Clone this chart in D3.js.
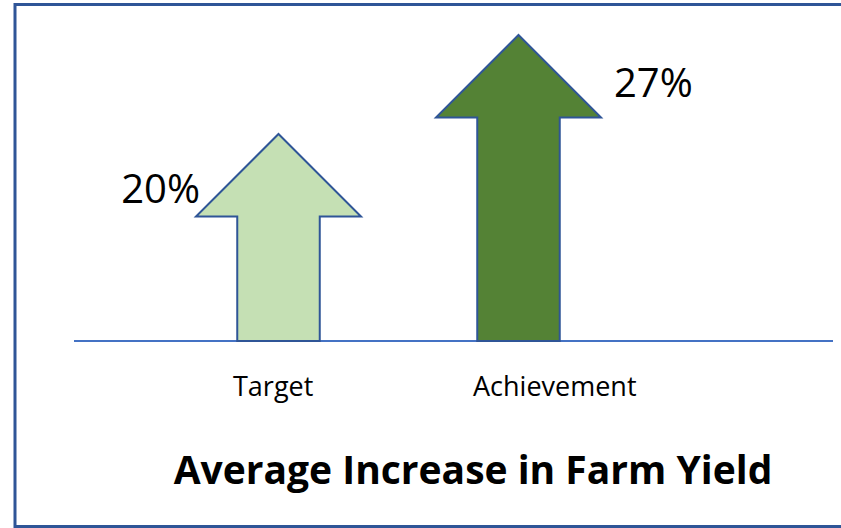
<!DOCTYPE html>
<html>
<head>
<meta charset="utf-8">
<script src="https://cdn.jsdelivr.net/npm/d3@7"></script>
<style>
  body { margin: 0; background: #fff; }
  svg { display: block; font-family: "Open Sans", sans-serif; }
</style>
</head>
<body>
<div id="vis"></div>
<script>
// Data
const CATEGORIES = ["Target", "Achievement"];
const VALUES = [20, 27];
const VALUE_LABELS = ["20%", "27%"];
const TITLE = "Average Increase in Farm Yield";

// Frame
const FRAME_WIDTH = 841;
const FRAME_HEIGHT = 528;
const BASE_Y = 341;

const FRAME = d3.select("#vis")
                .append("svg")
                  .attr("width", FRAME_WIDTH)
                  .attr("height", FRAME_HEIGHT);

// outer border (runs off the right edge like the slide)
FRAME.append("rect")
      .attr("x", 15)
      .attr("y", 4.5)
      .attr("width", 840)
      .attr("height", 522)
      .attr("fill", "none")
      .attr("stroke", "#2F5597")
      .attr("stroke-width", 3);

// scales: band for arrow heads, linear for arrow tips
const X_SCALE = d3.scaleBand()
                  .domain(CATEGORIES)
                  .range([196, 601])
                  .paddingInner(0.3125)
                  .paddingOuter(0);

const Y_SCALE = d3.scaleLinear()
                  .domain(d3.extent(VALUES))
                  .range([134, 35]);

const data = CATEGORIES.map((c, i) => ({cat: c, value: VALUES[i], label: VALUE_LABELS[i], i: i}));
const FILLS = ["#C5E0B4", "#548235"];

// baseline
FRAME.append("line")
      .attr("x1", 74)
      .attr("x2", 833)
      .attr("y1", BASE_Y)
      .attr("y2", BASE_Y)
      .attr("stroke", "#4472C4")
      .attr("stroke-width", 2);

// arrow shape: head is half the band tall, shaft is half the band wide
function arrowPath(d) {
  const w = X_SCALE.bandwidth();
  const left = X_SCALE(d.cat);
  const cx = left + w / 2;
  const tip = Y_SCALE(d.value);
  const headBase = tip + w / 2;
  const half = w / 4;
  const p = d3.path();
  p.moveTo(cx, tip);
  p.lineTo(left + w, headBase);
  p.lineTo(cx + half, headBase);
  p.lineTo(cx + half, BASE_Y);
  p.lineTo(cx - half, BASE_Y);
  p.lineTo(cx - half, headBase);
  p.lineTo(left, headBase);
  p.closePath();
  return p.toString();
}

FRAME.selectAll(".arrow")
      .data(data)
      .enter()
      .append("path")
        .attr("class", "arrow")
        .attr("d", arrowPath)
        .attr("fill", (d) => FILLS[d.i])
        .attr("stroke", "#2F5597")
        .attr("stroke-width", 2)
        .attr("stroke-linejoin", "miter");

// value labels: first on the left of its head, second on the right
FRAME.selectAll(".val")
      .data(data)
      .enter()
      .append("text")
        .attr("class", "val")
        .attr("x", (d) => d.i === 0 ? X_SCALE(d.cat) + 4 : X_SCALE(d.cat) + X_SCALE.bandwidth() + 13)
        .attr("y", (d) => Y_SCALE(d.value) + (d.i === 0 ? 69 : 62))
        .attr("text-anchor", (d) => d.i === 0 ? "end" : "start")
        .attr("font-size", "40px")
        .attr("fill", "#000")
        .text((d) => d.label);

// category labels
FRAME.selectAll(".cat")
      .data(data)
      .enter()
      .append("text")
        .attr("class", "cat")
        .attr("x", (d) => X_SCALE(d.cat) + 37)
        .attr("y", 396)
        .attr("font-size", "27px")
        .attr("fill", "#000")
        .text((d) => d.cat);

// title
FRAME.append("text")
      .attr("x", 473)
      .attr("y", 484)
      .attr("text-anchor", "middle")
      .attr("font-size", "39px")
      .attr("font-weight", "bold")
      .attr("fill", "#000")
      .text(TITLE);
</script>
</body>
</html>
